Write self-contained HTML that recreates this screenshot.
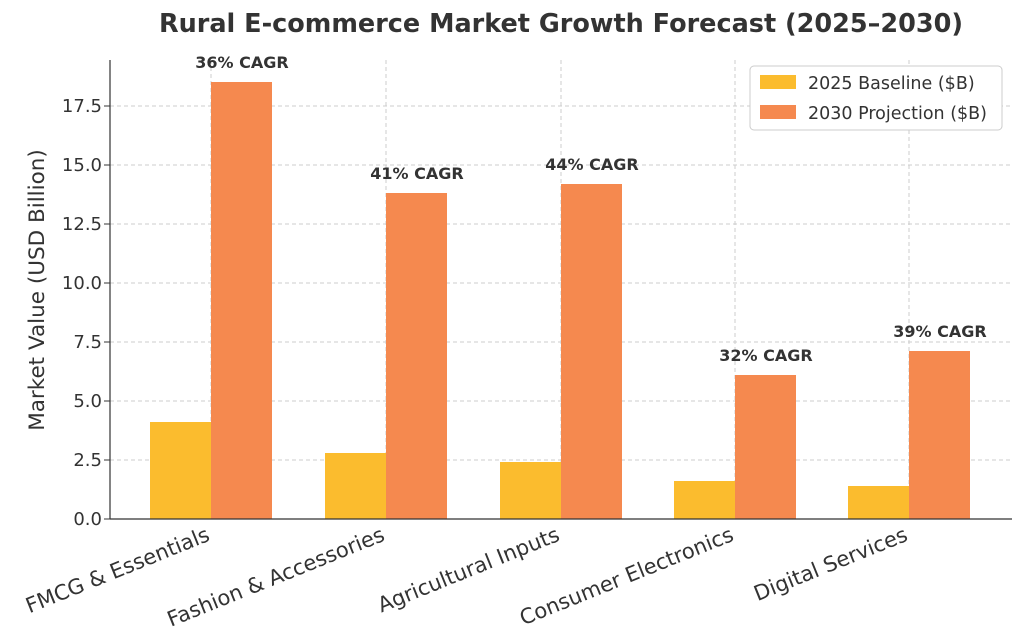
<!DOCTYPE html>
<html><head><meta charset="utf-8"><style>body{margin:0;background:#fff}svg{display:block}</style></head><body>
<svg width="1024" height="641" xmlns="http://www.w3.org/2000/svg" font-family="'DejaVu Sans','Liberation Sans',sans-serif">
<text x="561" y="32" text-anchor="middle" font-size="25.5" font-weight="bold" fill="#333">Rural E-commerce Market Growth Forecast (2025–2030)</text>
<g stroke="#ccc" stroke-dasharray="4,3" stroke-width="1">
<line x1="110" x2="1012" y1="460" y2="460"/><line x1="110" x2="1012" y1="401" y2="401"/>
<line x1="110" x2="1012" y1="342" y2="342"/><line x1="110" x2="1012" y1="283" y2="283"/>
<line x1="110" x2="1012" y1="224" y2="224"/><line x1="110" x2="1012" y1="165" y2="165"/>
<line x1="110" x2="1012" y1="106" y2="106"/>
<line x1="211" x2="211" y1="60" y2="519"/><line x1="386" x2="386" y1="60" y2="519"/>
<line x1="561" x2="561" y1="60" y2="519"/><line x1="735" x2="735" y1="60" y2="519"/>
<line x1="909" x2="909" y1="60" y2="519"/>
</g>
<g fill="#FBBC2E">
<rect x="150" y="422" width="61" height="97"/><rect x="325" y="453" width="61" height="66"/>
<rect x="500" y="462" width="61" height="57"/><rect x="674" y="481" width="61" height="38"/>
<rect x="848" y="486" width="61" height="33"/>
</g>
<g fill="#F5894F">
<rect x="211" y="82" width="61" height="437"/><rect x="386" y="193" width="61" height="326"/>
<rect x="561" y="184" width="61" height="335"/><rect x="735" y="375" width="61" height="144"/>
<rect x="909" y="351" width="61" height="168"/>
</g>
<g font-size="16" font-weight="bold" fill="#333" text-anchor="middle">
<text x="242" y="68">36% CAGR</text><text x="417" y="179">41% CAGR</text>
<text x="592" y="170">44% CAGR</text><text x="766" y="361">32% CAGR</text>
<text x="940" y="337">39% CAGR</text>
</g>
<line x1="110" x2="110" y1="60" y2="519" stroke="#333" stroke-width="1.2"/>
<line x1="110" x2="1012" y1="519" y2="519" stroke="#333" stroke-width="1.2"/>
<g font-size="18" fill="#333" text-anchor="end">
<text x="102" y="525">0.0</text><text x="102" y="466">2.5</text><text x="102" y="407">5.0</text>
<text x="102" y="348">7.5</text><text x="102" y="289">10.0</text><text x="102" y="230">12.5</text>
<text x="102" y="171">15.0</text><text x="102" y="112">17.5</text>
</g>
<g stroke="#333"><line x1="104" x2="110" y1="519" y2="519"/><line x1="104" x2="110" y1="460" y2="460"/><line x1="104" x2="110" y1="401" y2="401"/><line x1="104" x2="110" y1="342" y2="342"/><line x1="104" x2="110" y1="283" y2="283"/><line x1="104" x2="110" y1="224" y2="224"/><line x1="104" x2="110" y1="165" y2="165"/><line x1="104" x2="110" y1="106" y2="106"/></g>
<text transform="translate(44,290) rotate(-90)" text-anchor="middle" font-size="21.5" fill="#333">Market Value (USD Billion)</text>
<g font-size="21" fill="#333" text-anchor="end">
<text transform="translate(211,540) rotate(-22)">FMCG &amp; Essentials</text>
<text transform="translate(386,540) rotate(-22)">Fashion &amp; Accessories</text>
<text transform="translate(561,540) rotate(-22)">Agricultural Inputs</text>
<text transform="translate(735,540) rotate(-22)">Consumer Electronics</text>
<text transform="translate(909,540) rotate(-22)">Digital Services</text>
</g>
<rect x="750" y="66" width="252" height="64" rx="4" fill="#fff" stroke="#ccc"/>
<rect x="760" y="75" width="36" height="14" fill="#FBBC2E"/>
<rect x="760" y="105" width="36" height="14" fill="#F5894F"/>
<text x="808" y="89" font-size="17.5" fill="#333">2025 Baseline ($B)</text>
<text x="808" y="119" font-size="17.5" fill="#333">2030 Projection ($B)</text>
</svg>
</body></html>
